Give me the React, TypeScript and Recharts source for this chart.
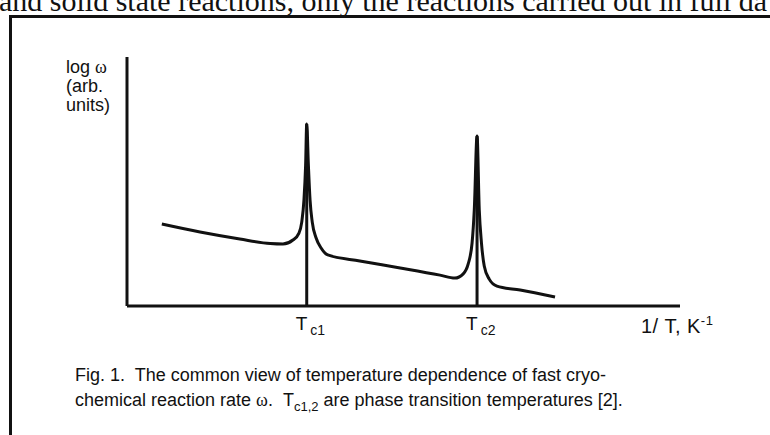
import React from 'react'
import { LineChart, Line, XAxis, YAxis, ReferenceLine } from 'recharts'

// 1/T in arbitrary units, log w in arbitrary units
const invT = [
  6.3, 13.2, 20.4, 25.9, 28.2, 30.0, 31.1, 31.6, 32.0, 32.3, 32.5, 32.8, 33.1, 33.5, 34.2, 35.1,
  36.3, 42.1, 49.4, 56.6, 59.3, 60.8, 61.7, 62.4, 62.8, 63.3, 63.7, 64.1, 64.6, 65.5, 66.9, 71.1,
  77.4,
]
const logRate = [
  32.9, 29.7, 26.9, 25.1, 24.9, 26.5, 29.3, 33.7, 42.6, 56.6, 73.1, 56.6, 42.6, 33.7, 27.3, 23.3,
  20.5, 18.1, 15.3, 12.4, 11.2, 12.9, 16.9, 25.3, 38.6, 68.3, 38.6, 25.3, 16.1, 10.8, 8.0, 6.4,
  3.6,
]
const tcValues = [32.5, 63.3]
const tcPeaks = [73.1, 68.3]
const tcSubs = ['c1', 'c2']

const data = invT.map((x, i) => ({ x, y: logRate[i] }))

const ink = '#111'
const sans = '"Liberation Sans", Arial, sans-serif'
const serif = '"Liberation Serif", "Times New Roman", serif'

function TcTick(props: any) {
  const { x, y, payload } = props
  const i = tcValues.indexOf(payload.value)
  return (
    <text x={x - 11} y={y + 22} fill={ink} fontFamily={sans} fontSize={19} textAnchor="start">
      <tspan>T</tspan>
      <tspan dx={3} dy={5} fontSize={14}>{tcSubs[i]}</tspan>
    </text>
  )
}

export default function App() {
  return (
    <div style={{ position: 'absolute', left: 0, top: 0, width: 770, height: 435, background: '#fff', overflow: 'hidden' }}>
      <div
        style={{
          position: 'absolute', left: -1, top: -13, fontFamily: serif, fontSize: 30,
          whiteSpace: 'pre', color: ink, lineHeight: '28px',
        }}
      >
        and solid state reactions, only the reactions carried out in full da
      </div>
      <div style={{ position: 'absolute', left: 9, top: 15, width: 770, height: 3, background: ink }} />
      <div style={{ position: 'absolute', left: 9, top: 15, width: 3, height: 430, background: ink }} />

      <div style={{ position: 'absolute', left: 66, top: 58, fontFamily: sans, fontSize: 18, lineHeight: '19px', color: ink }}>
        <div>log <span style={{ fontFamily: serif }}>ω</span></div>
        <div>(arb.</div>
        <div>units)</div>
      </div>

      <LineChart
        width={770}
        height={435}
        data={data}
        margin={{ top: 57, right: 90, bottom: 99, left: 125 }}
        style={{ position: 'absolute', left: 0, top: 0 }}
      >
        <XAxis
          type="number"
          dataKey="x"
          domain={[0, 100]}
          ticks={tcValues}
          tick={<TcTick />}
          tickLine={false}
          tickSize={0}
          height={30}
          axisLine={{ stroke: ink, strokeWidth: 3 }}
          allowDataOverflow
        />
        <YAxis
          type="number"
          domain={[0, 100]}
          width={2}
          tick={false}
          tickLine={false}
          axisLine={{ stroke: ink, strokeWidth: 3 }}
        />
        {tcValues.map((tc, i) => (
          <ReferenceLine
            key={tc}
            segment={[{ x: tc, y: 0 }, { x: tc, y: tcPeaks[i] }]}
            stroke={ink}
            strokeWidth={3}
          />
        ))}
        <Line
          type="monotone"
          dataKey="y"
          stroke={ink}
          strokeWidth={3}
          dot={false}
          activeDot={false}
          isAnimationActive={false}
        />
      </LineChart>

      <div style={{ position: 'absolute', left: 641, top: 309, fontFamily: sans, fontSize: 20, color: ink, whiteSpace: 'pre', lineHeight: '24px', letterSpacing: 0.5 }}>
        1/ T, K<sup style={{ fontSize: 13, verticalAlign: 8 }}>-1</sup>
      </div>

      <div style={{ position: 'absolute', left: 75, top: 363, fontFamily: sans, fontSize: 18, lineHeight: '25px', color: ink, whiteSpace: 'pre' }}>
        <div>Fig. 1.  The common view of temperature dependence of fast cryo-</div>
        <div>
          chemical reaction rate <span style={{ fontFamily: serif }}>ω</span>.  T<sub style={{ fontSize: 13 }}>c1,2</sub> are phase transition temperatures [2].
        </div>
      </div>
    </div>
  )
}
